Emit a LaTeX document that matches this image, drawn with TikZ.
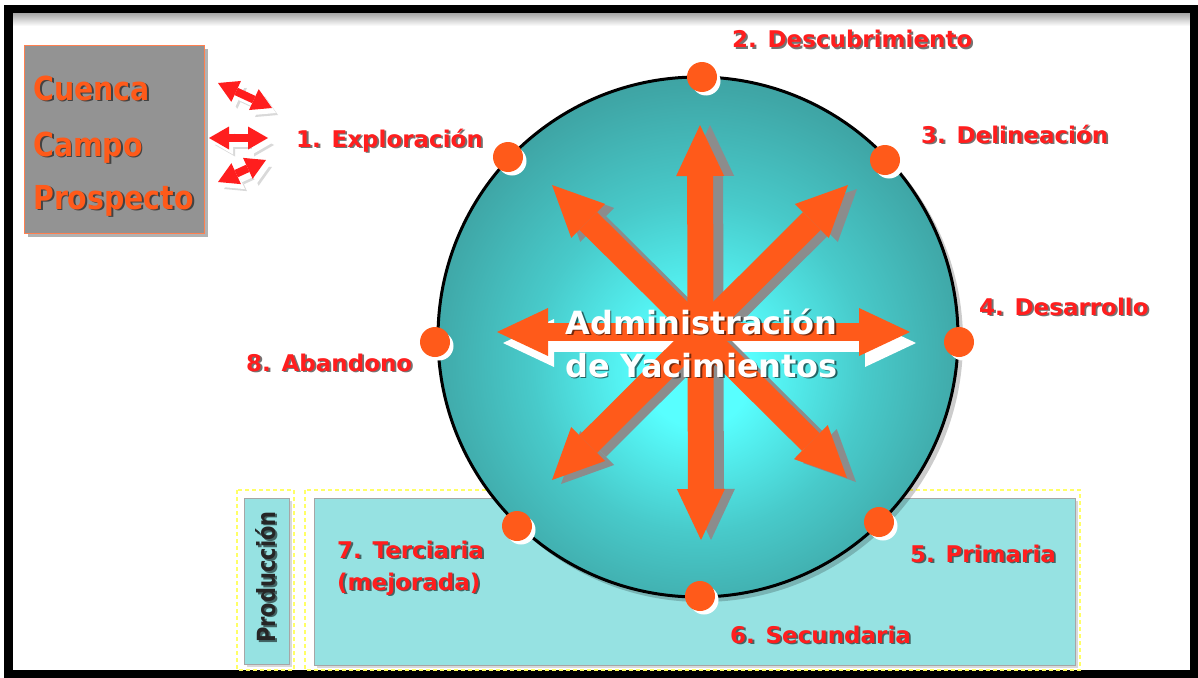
\documentclass[tikz,border=0pt]{standalone}
\usepackage{fontspec}
\setmainfont{DejaVu Sans}
\newfontfamily\narrowfont[FakeStretch=0.86]{DejaVu Sans}
\newfontfamily\prodfont[FakeStretch=0.84]{DejaVu Sans}
\usetikzlibrary{calc,arrows.meta}

\definecolor{arroworange}{HTML}{FF5A1A}
\definecolor{labelred}{HTML}{FF1E1E}
\definecolor{shadegray}{HTML}{8C8C8C}
\definecolor{boxgray}{HTML}{939393}
\definecolor{boxline}{HTML}{FF8050}
\definecolor{prodcyan}{HTML}{96E2E2}
\definecolor{dashyellow}{HTML}{FFFF66}
\definecolor{tealin}{HTML}{58FFFF}
\definecolor{tealmid}{HTML}{48CACA}
\definecolor{tealdark}{HTML}{3FA6A6}
\definecolor{tealout}{HTML}{3A8C8C}

\pgfdeclareradialshading{yacimiento}{\pgfpoint{0bp}{-4bp}}{color(0bp)=(tealin); color(5bp)=(tealin); color(16bp)=(tealmid); color(26bp)=(tealdark); color(35bp)=(tealout); color(50bp)=(tealout)}

% text with a dark drop shadow
\newcommand{\shadownode}[4]{%
  \node[#2, text=black, opacity=.55] at ($(#3)+(1.8,1.8)$) {#4};
  \node[#2] (#1) at (#3) {#4};}

\tikzset{
  lbl/.style={font=\fontsize{23}{32}\selectfont\bfseries, text=labelred, inner sep=0pt, anchor=base west},
  boxtxt/.style={font=\narrowfont\fontsize{33}{40}\selectfont\bfseries, text=arroworange, inner sep=0pt, anchor=base west},
  centertxt/.style={font=\fontsize{32}{43}\selectfont\bfseries, text=white, align=center, inner sep=0pt},
  prodtxt/.style={font=\prodfont\fontsize{25}{30}\selectfont\bfseries, text=black!85, rotate=90, inner sep=0pt},
  prodbox/.style={draw=black!35, fill=prodcyan, line width=.8pt},
  dashbox/.style={draw=dashyellow, line width=1.2pt, dash pattern=on 4pt off 3pt},
  dot/.style={circle, fill=arroworange, minimum size=30pt, inner sep=0pt},
  bigarrow/.style={line width=#1, >={Triangle[length=51pt,width=48pt,line width=0pt]}, <->},
  smallarrow/.style={line width=8pt, >={Triangle[length=20pt,width=23pt,line width=0pt]}, <->},
}

\begin{document}
\begin{tikzpicture}[x=1pt,y=-1pt]
  \useasboundingbox (0,0) rectangle (1198,677);
  \fill[white] (0,0) rectangle (1198,677);

  % frame
  \shade[top color=black!35, bottom color=white] (12,13) rectangle (1190,26);
  \draw[line width=8.5pt] (8.5,9) rectangle (1194,674);

  % production boxes
  \draw[dashbox] (237,490) rectangle (294,670);
  \draw[dashbox] (305,490) rectangle (1080,670);
  \fill[black, opacity=.15] (247,501) rectangle (292,667);
  \draw[prodbox] (244,498) rectangle (289,664);
  \fill[black, opacity=.15] (317,501) rectangle (1078,668);
  \draw[prodbox] (314,498) rectangle (1075,665);
  \shadownode{prod}{prodtxt}{266,577}{Producción}

  % cuenca / campo / prospecto
  \fill[black, opacity=.3] (28,49) rectangle (208,237);
  \draw[boxline, fill=boxgray, line width=.8pt] (24,45) rectangle (204,233);
  \shadownode{cuenca}{boxtxt}{33,100}{Cuenca}
  \shadownode{campo}{boxtxt}{33,156}{Campo}
  \shadownode{prospecto}{boxtxt}{33,209}{Prospecto}

  % small arrows
  \coordinate (ta1) at (218,83);  \coordinate (ta2) at (272,108);
  \coordinate (ma1) at (209,138); \coordinate (ma2) at (268,138);
  \coordinate (ba1) at (218,182); \coordinate (ba2) at (266,160);
  \foreach \a/\b in {ta1/ta2, ma1/ma2, ba1/ba2} {
    \draw[smallarrow, black!15] ($(\a)+(6,7)$) -- ($(\b)+(6,7)$);
    \draw[smallarrow, white] ($(\a)+(4,5)$) -- ($(\b)+(4,5)$);
    \draw[smallarrow, labelred] (\a) -- (\b);
  }

  % reservoir circle
  \coordinate (c) at (698,337);
  \fill[black, opacity=.2] (702,341) circle (261);
  \shade[shading=yacimiento] (c) circle (260);
  \draw[line width=3pt] (c) circle (260);

  % big arrows
  \coordinate (n) at (700,125);  \coordinate (s) at (701,540);
  \coordinate (w) at (497,332);  \coordinate (e) at (910,332);
  \coordinate (nw) at (552,185); \coordinate (se) at (847,478);
  \coordinate (ne) at (848,185); \coordinate (sw) at (552,480);
  \draw[bigarrow=18pt, white] ($(w)+(6,11)$) -- ($(e)+(6,11)$);
  \draw[bigarrow=26pt, shadegray] ($(n)+(10,0)$) -- ($(s)+(10,0)$);
  \draw[bigarrow=25pt, shadegray] ($(nw)+(9,4)$) -- ($(se)+(9,4)$);
  \draw[bigarrow=25pt, shadegray] ($(ne)+(9,4)$) -- ($(sw)+(9,4)$);
  \draw[bigarrow=18pt, arroworange] (w) -- (e);
  \draw[bigarrow=26pt, arroworange] (n) -- (s);
  \draw[bigarrow=25pt, arroworange] (nw) -- (se);
  \draw[bigarrow=25pt, arroworange] (ne) -- (sw);

  \shadownode{admin}{centertxt}{701.5,343}{Administración\\de Yacimientos}

  % stage dots
  \foreach \nm/\px/\py in {d1/508/157, d2/702/77, d3/885/160, d4/959/342,
                           d5/879/522, d6/700/596, d7/517/526, d8/435/342} {
    \fill[white] (\px+4,\py+4) circle (14.5);
    \node[dot] (\nm) at (\px,\py) {};
  }

  % stage labels
  \shadownode{lblone}{lbl}{296,147}{1. Exploración}
  \shadownode{lbltwo}{lbl}{732,48}{2. Descubrimiento}
  \shadownode{lblthree}{lbl}{921,143}{3. Delineación}
  \shadownode{lblfour}{lbl}{979,315}{4. Desarrollo}
  \shadownode{lblfive}{lbl}{910,562}{5. Primaria}
  \shadownode{lblsix}{lbl}{730,643}{6. Secundaria}
  \shadownode{lblseven}{lbl, align=left}{337,590}{7. Terciaria\\(mejorada)}
  \shadownode{lbleight}{lbl}{246,371}{8. Abandono}
\end{tikzpicture}
\end{document}
